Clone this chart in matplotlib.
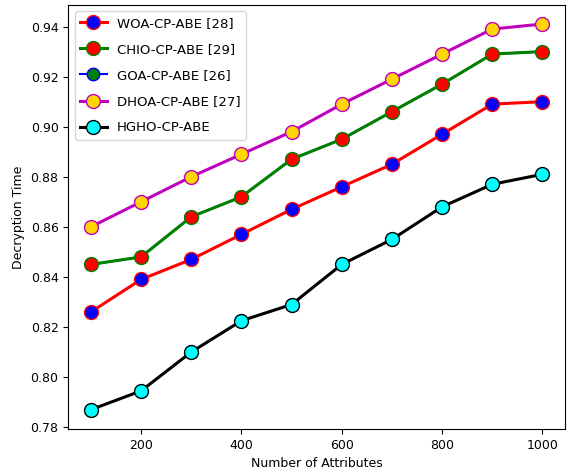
import numpy as np
import matplotlib.pyplot as plt

# Number of attributes
attributes = [100, 200, 300, 400, 500, 600, 700, 800, 900, 1000]

# Decryption time per method
woa = [0.826, 0.839, 0.847, 0.857, 0.867, 0.876, 0.885, 0.897, 0.909, 0.910]
chio = [0.845, 0.848, 0.864, 0.872, 0.887, 0.895, 0.906, 0.917, 0.929, 0.930]
goa = [0.845, 0.848, 0.864, 0.872, 0.887, 0.895, 0.906, 0.917, 0.929, 0.930]
dhoa = [0.860, 0.870, 0.880, 0.889, 0.898, 0.909, 0.919, 0.929, 0.939, 0.941]
hgho = [0.787, 0.7945, 0.810, 0.8225, 0.829, 0.845, 0.855, 0.868, 0.877, 0.881]

fig = plt.figure(figsize=(5.69, 4.74), dpi=100)
ax = fig.add_axes([0.12, 0.095, 0.873, 0.895])

kw = dict(marker='o', markersize=10, markeredgewidth=1.0, linewidth=2.2)
ax.plot(attributes, woa, color='red', markerfacecolor='blue', label='WOA-CP-ABE [28]', zorder=3, **kw)
ax.plot(attributes, goa, color='blue', markerfacecolor='green', label='GOA-CP-ABE [26]', zorder=2,
        marker='o', markersize=9, markeredgewidth=1.0, linewidth=1.5)
ax.plot(attributes, chio, color='green', markerfacecolor='red', label='CHIO-CP-ABE [29]', zorder=3, **kw)
ax.plot(attributes, dhoa, color='m', markerfacecolor='gold', label='DHOA-CP-ABE [27]', zorder=3, **kw)
ax.plot(attributes, hgho, color='black', markerfacecolor='cyan', label='HGHO-CP-ABE', zorder=3, **kw)

handles, labels = ax.get_legend_handles_labels()
order = [0, 2, 1, 3, 4]
ax.legend([handles[i] for i in order], [labels[i] for i in order],
          loc='upper left', fontsize=9.5, labelspacing=1.0)

ax.set_xlabel('Number of Attributes', fontsize=9)
ax.set_ylabel('Decryption Time', fontsize=9)
ax.set_xticks([200, 400, 600, 800, 1000])
ax.set_yticks(np.arange(0.78, 0.941, 0.02))
ax.tick_params(labelsize=9)

plt.savefig('out.png')
